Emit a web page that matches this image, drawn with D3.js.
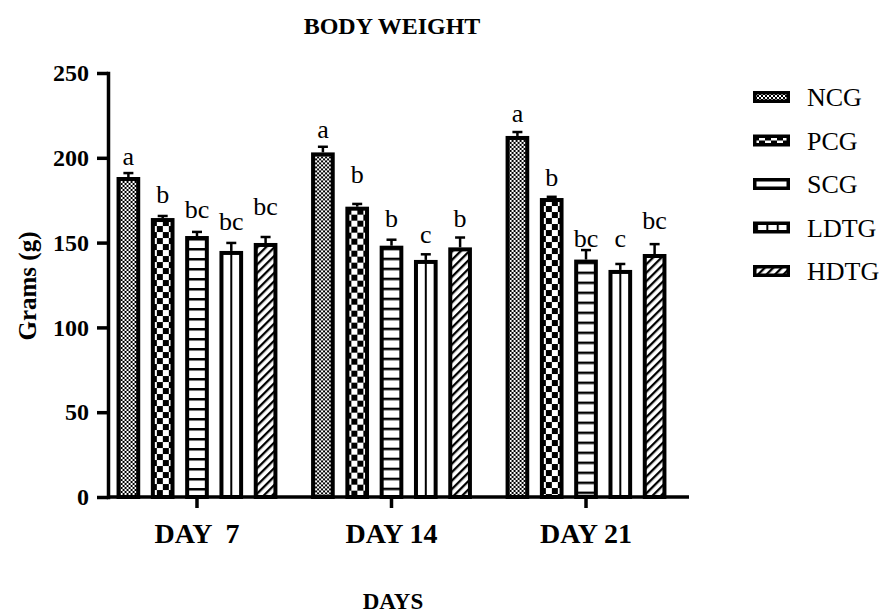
<!DOCTYPE html>
<html><head><meta charset="utf-8">
<script src="https://cdn.jsdelivr.net/npm/d3@7"></script>
<style>
html,body{margin:0;padding:0;background:#fff;}
text{font-family:"Liberation Serif","Times New Roman",serif;fill:#000;}
</style></head>
<body><svg id="chart" width="883" height="615"></svg>
<script>
// ---- data ----
const days = ["DAY  7", "DAY 14", "DAY 21"];
const groups = ["NCG", "PCG", "SCG", "LDTG", "HDTG"];
const NCG  = [187.5, 202, 211.7];
const PCG  = [163.3, 170, 175.1];
const SCG  = [152.7, 147, 138.8];
const LDTG = [143.9, 138.6, 132.7];
const HDTG = [148.6, 146, 142.1];
const errNCG  = [3.5, 4.5, 3.5];
const errPCG  = [2.4, 2.8, 1.9];
const errSCG  = [3.6, 4.7, 6.8];
const errLDTG = [5.9, 4.5, 4.7];
const errHDTG = [4.7, 7.0, 7.0];
const sigNCG  = ["a", "a", "a"];
const sigPCG  = ["b", "b", "b"];
const sigSCG  = ["bc", "b", "bc"];
const sigLDTG = ["bc", "c", "c"];
const sigHDTG = ["bc", "b", "bc"];
// letter anchor levels (grams)
const sigAtNCG  = [195.8, 211.7, 221.1];
const sigAtPCG  = [173.3, 185.1, 183.5];
const sigAtSCG  = [164.5, 159.2, 147.4];
const sigAtLDTG = [157.4, 149.8, 147.4];
const sigAtHDTG = [166.3, 159.2, 158.0];
const yTicks = [0, 50, 100, 150, 200, 250];

const values = {NCG, PCG, SCG, LDTG, HDTG};
const errs = {NCG: errNCG, PCG: errPCG, SCG: errSCG, LDTG: errLDTG, HDTG: errHDTG};
const sigs = {NCG: sigNCG, PCG: sigPCG, SCG: sigSCG, LDTG: sigLDTG, HDTG: sigHDTG};
const sigAt = {NCG: sigAtNCG, PCG: sigAtPCG, SCG: sigAtSCG, LDTG: sigAtLDTG, HDTG: sigAtHDTG};
const patternOf = {NCG: "fine", PCG: "coarse", SCG: "hlines", LDTG: "vlines", HDTG: "diag"};

const rows = [];
days.forEach((d, i) => groups.forEach(g => rows.push({day: d, g, v: values[g][i], e: errs[g][i], s: sigs[g][i], sa: sigAt[g][i]})));

// ---- layout ----
const svg = d3.select("#chart");
const defs = svg.append("defs");
const y = d3.scaleLinear().domain([0, 250]).range([497, 73]);
const x0 = d3.scaleBand().domain(days).range([108, 675]).paddingInner(0.173).paddingOuter(0.044);
const x1 = d3.scaleBand().domain(groups).range([0, x0.bandwidth()]).paddingInner(0.31).paddingOuter(0);
const SW = 4;

let pid = 0;
function makePattern(type, ox, oy, innerW) {
  const id = "p" + (pid++);
  let p;
  if (type === "fine") {
    p = defs.append("pattern").attr("id", id).attr("patternUnits", "userSpaceOnUse")
      .attr("x", ox).attr("y", oy).attr("width", 4).attr("height", 4);
    p.append("rect").attr("width", 4).attr("height", 4).attr("fill", "#fff");
    p.append("rect").attr("width", 2).attr("height", 2).attr("fill", "#000");
    p.append("rect").attr("x", 2).attr("y", 2).attr("width", 2).attr("height", 2).attr("fill", "#000");
  } else if (type === "coarse") {
    p = defs.append("pattern").attr("id", id).attr("patternUnits", "userSpaceOnUse")
      .attr("x", ox).attr("y", oy).attr("width", 12).attr("height", 12);
    p.append("rect").attr("width", 12).attr("height", 12).attr("fill", "#fff");
    p.append("rect").attr("width", 6).attr("height", 6).attr("fill", "#000");
    p.append("rect").attr("x", 6).attr("y", 6).attr("width", 6).attr("height", 6).attr("fill", "#000");
  } else if (type === "hlines") {
    p = defs.append("pattern").attr("id", id).attr("patternUnits", "userSpaceOnUse")
      .attr("x", ox).attr("y", oy).attr("width", 10).attr("height", 10);
    p.append("rect").attr("width", 10).attr("height", 10).attr("fill", "#fff");
    p.append("rect").attr("y", 0).attr("width", 10).attr("height", 2.5).attr("fill", "#000");
  } else if (type === "vlines") {
    const per = innerW;
    p = defs.append("pattern").attr("id", id).attr("patternUnits", "userSpaceOnUse")
      .attr("x", ox).attr("y", oy).attr("width", per).attr("height", 10);
    p.append("rect").attr("width", per).attr("height", 10).attr("fill", "#fff");
    p.append("rect").attr("x", 0).attr("width", 2).attr("height", 10).attr("fill", "#000");
  } else {
    p = defs.append("pattern").attr("id", id).attr("patternUnits", "userSpaceOnUse")
      .attr("x", ox).attr("y", oy).attr("width", 6).attr("height", 6)
      .attr("patternTransform", "rotate(45)");
    p.append("rect").attr("width", 6).attr("height", 6).attr("fill", "#fff");
    p.append("rect").attr("width", 2.3).attr("height", 6).attr("fill", "#000");
  }
  return "url(#" + id + ")";
}

// bars
const bw = x1.bandwidth();
rows.forEach(r => {
  const bx = x0(r.day) + x1(r.g);
  const cx = bx + bw / 2;
  const top = y(r.v);
  let fill;
  if (r.g === "LDTG") fill = makePattern("vlines", cx - 1, top, 10);
  else fill = makePattern(patternOf[r.g], bx, top, 0);
  svg.append("rect")
    .attr("x", bx + SW / 2).attr("y", top)
    .attr("width", bw - SW).attr("height", y(0) - top)
    .attr("fill", fill).attr("stroke", "#000").attr("stroke-width", SW);
  // error bar
  svg.append("line").attr("x1", cx).attr("x2", cx).attr("y1", top - SW / 2).attr("y2", y(r.v + r.e))
    .attr("stroke", "#000").attr("stroke-width", 2.5);
  svg.append("line").attr("x1", cx - 5).attr("x2", cx + 5).attr("y1", y(r.v + r.e)).attr("y2", y(r.v + r.e))
    .attr("stroke", "#000").attr("stroke-width", 2.5);
  svg.append("text").attr("x", cx).attr("y", y(r.sa)).attr("text-anchor", "middle")
    .style("font-size", "26px").text(r.s);
});

// axes
const yAxis = svg.append("g").attr("transform", "translate(108,0)")
  .call(d3.axisLeft(y).tickValues(yTicks).tickSize(11).tickSizeOuter(0).tickPadding(8));
yAxis.selectAll("path,line").attr("stroke", "#000").attr("stroke-width", 3.5);
yAxis.select(".domain").attr("stroke-linecap", "square");
yAxis.selectAll("text").style("font-size", "24px").style("font-weight", "bold")
  .style("font-family", "Liberation Serif").attr("fill", "#000");

const xAxis = svg.append("g").attr("transform", "translate(0,497)")
  .call(d3.axisBottom(x0).tickSize(11).tickSizeOuter(0).tickPadding(15));
xAxis.select(".domain").attr("d", "M108,0H689");
xAxis.selectAll("path,line").attr("stroke", "#000").attr("stroke-width", 3.5);
xAxis.selectAll("text").style("font-size", "28px").style("font-weight", "bold")
  .style("font-family", "Liberation Serif").style("white-space", "pre").attr("fill", "#000");

// titles
svg.append("text").attr("x", 392).attr("y", 34).attr("text-anchor", "middle")
  .style("font-size", "24px").style("font-weight", "bold").text("BODY WEIGHT");
svg.append("text").attr("transform", "translate(36,286) rotate(-90)").attr("text-anchor", "middle")
  .style("font-size", "25px").style("font-weight", "bold").text("Grams (g)");
svg.append("text").attr("x", 393).attr("y", 609).attr("text-anchor", "middle")
  .style("font-size", "23px").style("font-weight", "bold").text("DAYS");

// legend
const lg = svg.append("g");
const ly = d3.scalePoint().domain(groups).range([97, 271]);
const LW = 37, LH = 12;
groups.forEach(g => {
  const lx = 753, top = ly(g) - LH / 2;
  let fill;
  if (g === "LDTG") {
    const inner = (LW - 2 * SW) / 3 + 0.7;
    fill = makePattern("vlines", lx + SW + inner - 1, top, inner);
  } else if (g === "SCG") {
    fill = "#fff";
  } else fill = makePattern(patternOf[g], lx, top, 0);
  lg.append("rect").attr("x", lx + 1.75).attr("y", top + 1.75).attr("width", LW - 3.5).attr("height", LH - 3.5)
    .attr("fill", fill).attr("stroke", "#000").attr("stroke-width", 3.5);
  lg.append("text").attr("x", 807).attr("y", ly(g) + 9).style("font-size", "26px").text(g);
});
</script></body></html>
